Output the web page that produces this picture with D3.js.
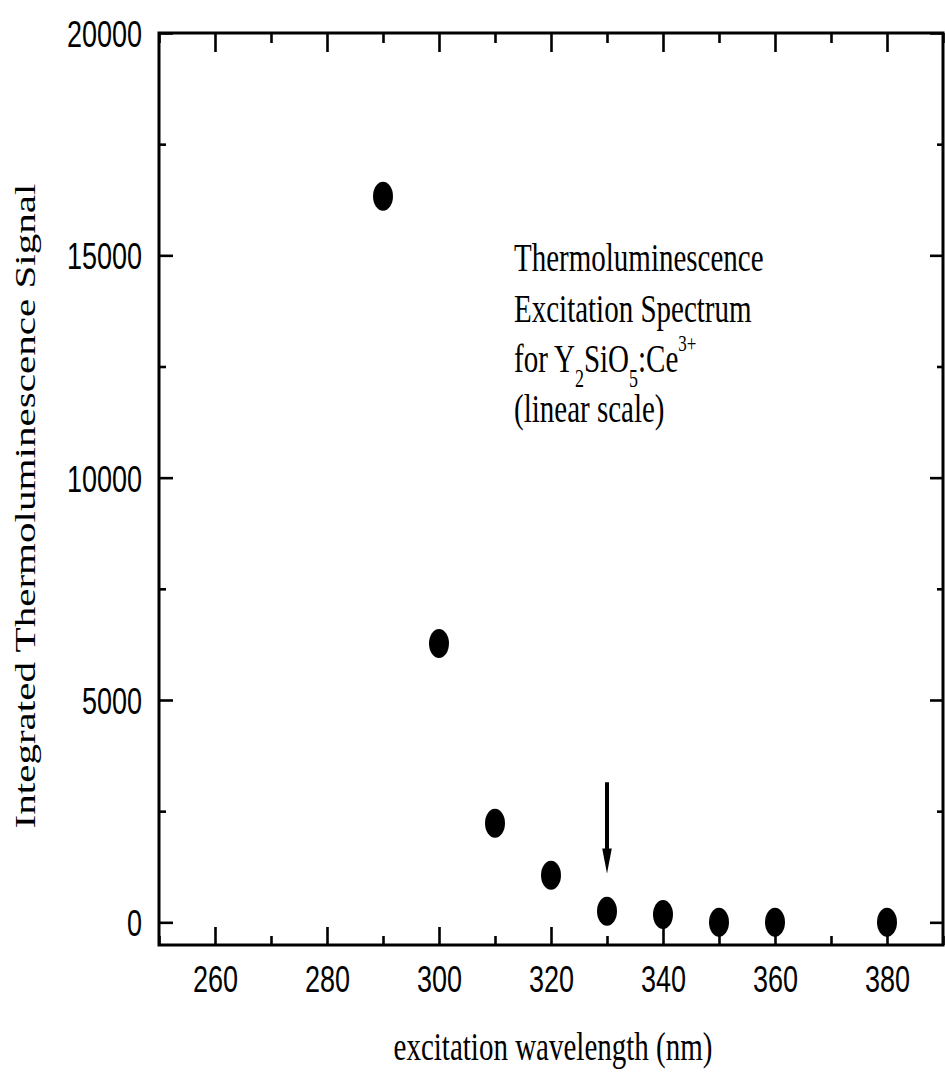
<!DOCTYPE html>
<html>
<head>
<meta charset="utf-8">
<script src="https://cdn.jsdelivr.net/npm/d3@7"></script>
<style>
  html, body { margin: 0; padding: 0; background: #fff; }
  svg { display: block; }
</style>
</head>
<body>
<svg id="chart" width="945" height="1080"></svg>
<script>
// Thermoluminescence excitation spectrum data
const wavelengths = [290, 300, 310, 320, 330, 340, 350, 360, 380];
const signal = [16330, 6270, 2230, 1060, 250, 175, 0, 0, 0];

const xTicks = [260, 280, 300, 320, 340, 360, 380];
const xMinorTicks = [250, 270, 290, 310, 330, 350, 370, 390];
const yTicks = [0, 5000, 10000, 15000, 20000];
const yMinorTicks = [2500, 7500, 12500, 17500];

// Arrow marking 330 nm: from signal 3150 down to 1100
const arrowX = [330];
const arrowFrom = [3150];
const arrowTo = [1100];

const noteLines = ["Thermoluminescence", "Excitation Spectrum", "for Y2SiO5:Ce3+", "(linear scale)"];

const plotLeft = 159, plotRight = 943, plotTop = 33, plotBottom = 945;
const SY = 1.39; // vertical stretch of the lettering

const svg = d3.select("#chart");

const x = d3.scaleLinear().domain([250, 390]).range([plotLeft, plotRight]);
const y = d3.scaleLinear().domain([-510, 20000]).range([plotBottom, plotTop]);

const sans = "'Liberation Sans', Arial, sans-serif";
const serif = "'Liberation Serif', 'Times New Roman', serif";

// frame axes with inward ticks
function styleAxis(g) {
  g.select(".domain").remove();
  g.selectAll(".tick line").attr("stroke", "#000").attr("stroke-width", 2.6);
}

// bottom axis (major with labels)
const gBottom = svg.append("g").attr("transform", `translate(0,${plotBottom})`)
  .call(d3.axisBottom(x).tickValues(xTicks).tickSizeInner(-18).tickSizeOuter(0).tickFormat(d3.format("d")));
styleAxis(gBottom);
gBottom.selectAll(".tick text")
  .attr("font-family", sans).attr("font-size", 27).attr("fill", "#000")
  .attr("y", 34 / SY).attr("dy", "0.36em")
  .attr("transform", `scale(1,${SY})`);
svg.append("g").attr("transform", `translate(0,${plotBottom})`)
  .call(d3.axisBottom(x).tickValues(xMinorTicks).tickSizeInner(-9).tickSizeOuter(0).tickFormat(""))
  .call(styleAxis);

// top axis
svg.append("g").attr("transform", `translate(0,${plotTop})`)
  .call(d3.axisTop(x).tickValues(xTicks).tickSizeInner(-19).tickSizeOuter(0).tickFormat(""))
  .call(styleAxis);
svg.append("g").attr("transform", `translate(0,${plotTop})`)
  .call(d3.axisTop(x).tickValues(xMinorTicks).tickSizeInner(-10).tickSizeOuter(0).tickFormat(""))
  .call(styleAxis);

// left axis
const gLeft = svg.append("g").attr("transform", `translate(${plotLeft},0)`)
  .call(d3.axisLeft(y).tickValues(yTicks).tickSizeInner(-14).tickSizeOuter(0).tickFormat(d3.format("d")));
styleAxis(gLeft);
gLeft.selectAll(".tick text")
  .attr("font-family", sans).attr("font-size", 27).attr("fill", "#000")
  .attr("x", -17).attr("dy", "0.36em")
  .attr("transform", `scale(1,${SY})`)
  .attr("y", 0);
svg.append("g").attr("transform", `translate(${plotLeft},0)`)
  .call(d3.axisLeft(y).tickValues(yMinorTicks).tickSizeInner(-7).tickSizeOuter(0).tickFormat(""))
  .call(styleAxis);

// right axis
svg.append("g").attr("transform", `translate(${plotRight},0)`)
  .call(d3.axisRight(y).tickValues(yTicks).tickSizeInner(-13).tickSizeOuter(0).tickFormat(""))
  .call(styleAxis);
svg.append("g").attr("transform", `translate(${plotRight},0)`)
  .call(d3.axisRight(y).tickValues(yMinorTicks).tickSizeInner(-6).tickSizeOuter(0).tickFormat(""))
  .call(styleAxis);

// plot frame
svg.append("rect")
  .attr("x", plotLeft).attr("y", plotTop)
  .attr("width", plotRight - plotLeft).attr("height", plotBottom - plotTop)
  .attr("fill", "none").attr("stroke", "#000").attr("stroke-width", 3);

// data points
svg.append("g").selectAll("ellipse")
  .data(wavelengths.map((w, i) => ({ w, v: signal[i] })))
  .join("ellipse")
  .attr("cx", d => x(d.w)).attr("cy", d => y(d.v))
  .attr("rx", 10).attr("ry", 14.5)
  .attr("fill", "#000");

// arrow
arrowX.forEach((ax, i) => {
  const px = x(ax), y0 = y(arrowFrom[i]), y1 = y(arrowTo[i]);
  const headLen = 25, headHalf = 4.8;
  svg.append("line")
    .attr("x1", px).attr("x2", px).attr("y1", y0).attr("y2", y1 - headLen + 2)
    .attr("stroke", "#000").attr("stroke-width", 4);
  svg.append("path")
    .attr("d", `M${px - headHalf},${y1 - headLen} L${px + headHalf},${y1 - headLen} L${px},${y1} Z`)
    .attr("fill", "#000");
});

// axis titles
svg.append("text")
  .attr("transform", `translate(35,506) scale(1,1.37) rotate(-90)`)
  .attr("text-anchor", "middle")
  .attr("font-family", serif).attr("font-size", 30).attr("fill", "#000")
  .text("Integrated Thermoluminescence Signal");

svg.append("text")
  .attr("transform", `translate(553,1060) scale(1,${SY})`)
  .attr("text-anchor", "middle")
  .attr("font-family", serif).attr("font-size", 29).attr("fill", "#000")
  .text("excitation wavelength (nm)");

// annotation block
const noteX = 514;
const noteBaselines = [271, 322, 372, 422];
const note = svg.append("g").attr("font-family", serif).attr("font-size", 29).attr("fill", "#000");

function noteLine(i) {
  return note.append("text").attr("transform", `translate(${noteX},${noteBaselines[i]}) scale(1,${SY})`);
}
noteLine(0).text(noteLines[0]);
noteLine(1).text(noteLines[1]);
const l3 = noteLine(2);
l3.append("tspan").text("for Y");
l3.append("tspan").attr("font-size", 18).attr("dy", 11).text("2");
l3.append("tspan").attr("dy", -11).text("SiO");
l3.append("tspan").attr("font-size", 18).attr("dy", 11).text("5");
l3.append("tspan").attr("dy", -11).text(":Ce");
l3.append("tspan").attr("font-size", 17).attr("dy", -15).text("3+");
noteLine(3).text(noteLines[3]);
</script>
</body>
</html>
